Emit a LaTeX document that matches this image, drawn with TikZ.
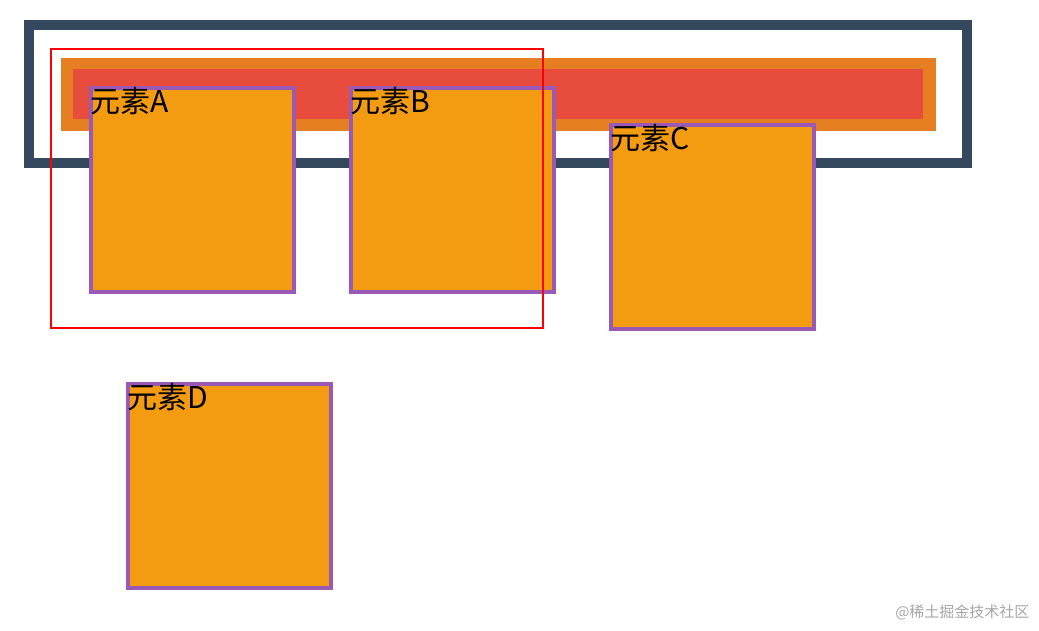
\documentclass[tikz,border=0pt]{standalone}
\usepackage{fontspec}
\setmainfont{Noto Sans CJK SC}
\definecolor{frame}{HTML}{34495E}
\definecolor{bar}{HTML}{E67E22}
\definecolor{barin}{HTML}{E74C3C}
\definecolor{boxfill}{HTML}{F39C12}
\definecolor{boxline}{HTML}{9B59B6}
\tikzset{
  elem/.style={draw=boxline, line width=4pt, fill=boxfill, minimum width=203pt, minimum height=204pt, anchor=north west, inner sep=0pt},
  elemtext/.style={anchor=north west, inner sep=1pt, font=\fontsize{30}{30}\selectfont}
}
\begin{document}
\begin{tikzpicture}[x=1pt, y=-1pt]
\useasboundingbox (0,0) rectangle (1039,631);
% frame and bars
\draw[frame, line width=10pt] (29,25) rectangle (967,163);
\fill[bar] (61,58) rectangle (936,131);
\fill[barin] (73,69) rectangle (923,119);
% elements
\node[elem] (a) at (89,86) {};
\node[elemtext] at (a.north west) {元素A};
\node[elem] (b) at (349,86) {};
\node[elemtext] at (b.north west) {元素B};
\node[elem] (c) at (609,123) {};
\node[elemtext] at (c.north west) {元素C};
\node[elem] (d) at (126,382) {};
\node[elemtext] at (d.north west) {元素D};
% selection
\draw[red, line width=2pt] (51,49) rectangle (543,328);
\node[anchor=south east, text=gray!70, font=\fontsize{15}{15}\selectfont] (mark) at (1033,624) {@稀土掘金技术社区};
\end{tikzpicture}
\end{document}
